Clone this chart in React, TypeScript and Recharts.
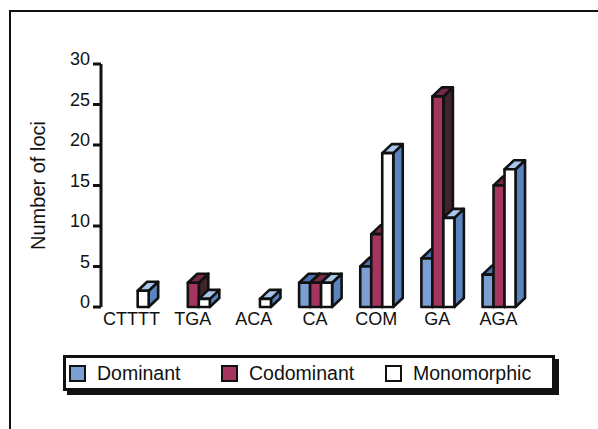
import React from 'react';
import { BarChart, Bar, XAxis, YAxis } from 'recharts';

// Loci counts per marker type
const categories = ['CTTTT', 'TGA', 'ACA', 'CA', 'COM', 'GA', 'AGA'];
const dominant = [0, 0, 0, 3, 5, 6, 4];
const codominant = [0, 3, 0, 3, 9, 26, 15];
const monomorphic = [2, 1, 1, 3, 19, 11, 17];
const yTicks = [0, 5, 10, 15, 20, 25, 30];

const data = categories.map((name, i) => ({
  name,
  Dominant: dominant[i],
  Codominant: codominant[i],
  Monomorphic: monomorphic[i],
}));

const series = [
  { key: 'Dominant', front: '#7b9fd2', side: '#5a82bf', top: '#4d74b2' },
  { key: 'Codominant', front: '#a3355f', side: '#3f2428', top: '#742a48' },
  { key: 'Monomorphic', front: '#ffffff', side: '#5a84c0', top: '#a9c6ec' },
];

const DX = 9.5;
const DY = 9;
const FONT = '"Liberation Sans", Arial, sans-serif';

// Extruded bar: front face, right side face and top face
const makeBox = (front: string, side: string, top: string) => (props: any) => {
  const { x, y, width, height } = props;
  if (!height || height <= 0) return <g />;
  const sw = 2.6;
  const sidePts = `${x + width},${y} ${x + width + DX},${y - DY} ${x + width + DX},${y + height - DY} ${x + width},${y + height}`;
  const topPts = `${x},${y} ${x + DX},${y - DY} ${x + width + DX},${y - DY} ${x + width},${y}`;
  return (
    <g stroke="#111" strokeWidth={sw} strokeLinejoin="round">
      <polygon points={sidePts} fill={side} />
      <polygon points={topPts} fill={top} />
      <rect x={x} y={y} width={width} height={height} fill={front} />
    </g>
  );
};

const YTitle = (props: any) => {
  const vb = props.viewBox || {};
  const cx = 38;
  const cy = vb.y + vb.height / 2;
  return (
    <text
      x={cx}
      y={cy}
      transform={`rotate(-90 ${cx} ${cy})`}
      textAnchor="middle"
      dominantBaseline="central"
      fontFamily={FONT}
      fontSize={20}
      fill="#111"
    >
      Number of loci
    </text>
  );
};

const legendWidths = [152, 164, 150];

export default function App() {
  return (
    <div style={{ position: 'absolute', left: 0, top: 0, width: 598, height: 429, background: '#fff', overflow: 'hidden' }}>
      <div
        style={{
          position: 'absolute',
          left: 8.5,
          top: 9.5,
          width: 620,
          height: 440,
          borderLeft: '2.8px solid #111',
          borderTop: '2.8px solid #111',
        }}
      />
      <div style={{ position: 'absolute', left: 0, top: 0 }}>
        <BarChart
          width={598}
          height={429}
          data={data}
          margin={{ top: 64, right: 69, bottom: 92, left: 0 }}
          barCategoryGap="24%"
          barGap={0}
        >
          <XAxis
            dataKey="name"
            height={30}
            axisLine={false}
            tickLine={false}
            tickSize={0}
            tickMargin={5}
            interval={0}
            tick={{ fontFamily: FONT, fontSize: 18, fill: '#111' }}
          />
          <YAxis
            width={101}
            domain={[0, 30]}
            ticks={yTicks}
            interval={0}
            axisLine={{ stroke: '#111', strokeWidth: 3 }}
            tickLine={{ stroke: '#111', strokeWidth: 3 }}
            tickSize={8}
            tickMargin={3}
            tick={{ fontFamily: FONT, fontSize: 18, fill: '#111', dy: -5 }}
            label={{ content: YTitle }}
          />
          {series.map((s) => (
            <Bar
              key={s.key}
              dataKey={s.key}
              isAnimationActive={false}
              shape={makeBox(s.front, s.side, s.top)}
            />
          ))}
        </BarChart>
      </div>
      <div
        style={{
          position: 'absolute',
          left: 63,
          top: 355,
          width: 486,
          height: 30,
          border: '3px solid #111',
          boxShadow: '4px 4px 0 #111',
          background: '#fff',
          display: 'flex',
          alignItems: 'center',
          fontFamily: FONT,
          fontSize: 19.5,
          color: '#111',
        }}
      >
        {series.map((s, i) => (
          <div key={s.key} style={{ display: 'flex', alignItems: 'center', width: legendWidths[i], marginLeft: i === 0 ? 3 : 0 }}>
            <div
              style={{
                width: 13,
                height: 13,
                border: '2.5px solid #111',
                background: s.front,
                marginRight: 11,
              }}
            />
            <span>{s.key}</span>
          </div>
        ))}
      </div>
    </div>
  );
}
